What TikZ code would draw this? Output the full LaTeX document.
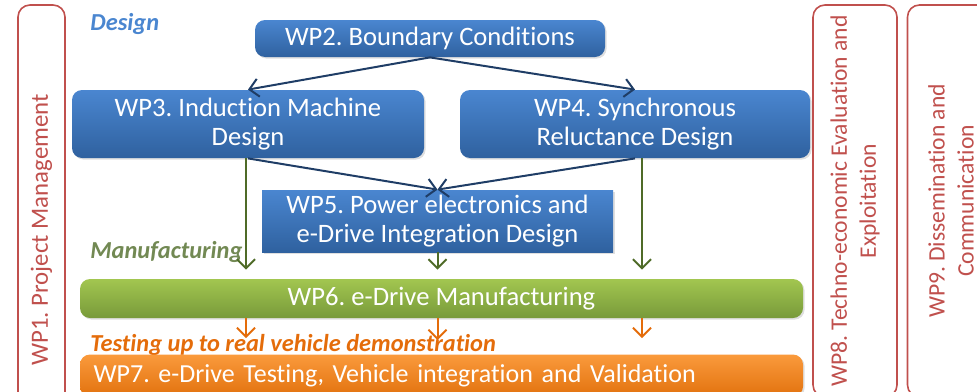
\documentclass[tikz,border=0pt]{standalone}
\usepackage{fontspec}
\setmainfont{Carlito}[Ligatures=NoCommon]
\frenchspacing
\usetikzlibrary{arrows.meta,shadows}

\definecolor{wpblueT}{HTML}{4A86D0}
\definecolor{wpblueB}{HTML}{2F619F}
\definecolor{wpgreenT}{HTML}{A2C650}
\definecolor{wpgreenB}{HTML}{789A3A}
\definecolor{wporangeT}{HTML}{FA9A3C}
\definecolor{wporangeB}{HTML}{E2720E}
\definecolor{wpred}{HTML}{C0504D}
\definecolor{navy}{HTML}{1F3D66}
\definecolor{olive}{HTML}{4F6B28}
\definecolor{rust}{HTML}{E46C0A}

\tikzset{
  wpbox/.style={rounded corners=5pt,text=white,font=\fontsize{13.3}{14.8}\selectfont,
    align=center,inner sep=0pt,drop shadow={opacity=0.25,shadow xshift=0.8pt,shadow yshift=-0.8pt}},
  bluebox/.style={wpbox,top color=wpblueT,bottom color=wpblueB},
  greenbox/.style={wpbox,top color=wpgreenT,bottom color=wpgreenB},
  orangebox/.style={wpbox,top color=wporangeT,bottom color=wporangeB},
  sidebox/.style={draw=wpred,line width=0.8pt,rounded corners=6pt,rotate=90,
    text=wpred,align=center,font=\fontsize{11.8}{14.5}\selectfont},
  phase/.style={anchor=west,inner sep=1pt,font=\fontsize{12.2}{14}\selectfont\bfseries\itshape},
  flow/.style={->,line width=1pt},
}

\begin{document}
\begin{tikzpicture}[x=0.5pt,y=-0.5pt,>={Straight Barb[length=4.5pt,width=9pt]}]
  \useasboundingbox (0,0) rectangle (977,391);
  \clip (0,0) rectangle (977,391);

  % side work packages
  \node[sidebox,font=\fontsize{12.4}{14.5}\selectfont,minimum width=225pt,minimum height=23.5pt] (wp1) at (41.5,230) {WP1. Project Management};
  \node[sidebox,minimum width=196pt,minimum height=42pt] (wp8) at (855,201)
    {WP8. Techno-economic Evaluation and\\Exploitation};
  \node[sidebox,minimum width=196pt,minimum height=43.5pt] (wp9) at (951,201)
    {WP9. Dissemination and\\Communication};

  % phases
  \node[phase,text=wpblueT] (design) at (88,24) {Design};
  \node[phase,text=olive!80] (manuf) at (88,252) {Manufacturing};
  \node[phase,text=rust] (test) at (88,345) {Testing up to real vehicle demonstration};

  % main work packages
  \node[bluebox,minimum width=175pt,minimum height=18.5pt] (wp2) at (430,38.5)
    {WP2. Boundary Conditions};
  \node[bluebox,minimum width=176pt,minimum height=34pt] (wp3) at (248,124)
    {WP3. Induction Machine\\Design};
  \node[bluebox,minimum width=175pt,minimum height=34pt] (wp4) at (635,124)
    {WP4. Synchronous\\Reluctance Design};
  \node[bluebox,rounded corners=0pt,minimum width=175.5pt,minimum height=31pt] (wp5) at (437.5,221)
    {WP5. Power electronics and\\e-Drive Integration Design};
  \node[greenbox,minimum width=361.5pt,minimum height=19.5pt] (wp6) at (441.5,298.5)
    {WP6. e-Drive Manufacturing};
  \node[orangebox,font=\fontsize{13}{14.5}\selectfont,minimum width=361.5pt,minimum height=21pt,text width=348pt,align=left] (wp7) at (441.5,375.5)
    {WP7. e-Drive Testing, Vehicle integration and Validation};

  % design flow
  \draw[flow,navy] (wp2.south) -- (wp3.north);
  \draw[flow,navy] (wp2.south) -- (wp4.north);
  \draw[flow,navy] (wp3.south) -- (wp5.north);
  \draw[flow,navy] (wp4.south) -- (wp5.north);

  % manufacturing flow
  \draw[flow,olive,shorten >=4.5pt] ([xshift=-1pt]wp3.south) -- ([xshift=-1pt]wp3.south |- wp6.north);
  \draw[flow,olive,shorten >=4.5pt] (wp5.south) -- (wp5.south |- wp6.north);
  \draw[flow,olive,shorten >=4.5pt] ([xshift=3.5pt]wp4.south) -- ([xshift=3.5pt]wp4.south |- wp6.north);

  % testing flow
  \draw[flow,rust,shorten >=8pt] ([xshift=-1pt]wp3.south |- wp6.south) -- ([xshift=-1pt]wp3.south |- wp7.north);
  \draw[flow,rust,shorten >=7pt] (wp5.south |- wp6.south) -- (wp5.south |- wp7.north);
  \draw[flow,rust,shorten >=8pt] ([xshift=3.5pt]wp4.south |- wp6.south) -- ([xshift=3.5pt]wp4.south |- wp7.north);
\end{tikzpicture}
\end{document}
